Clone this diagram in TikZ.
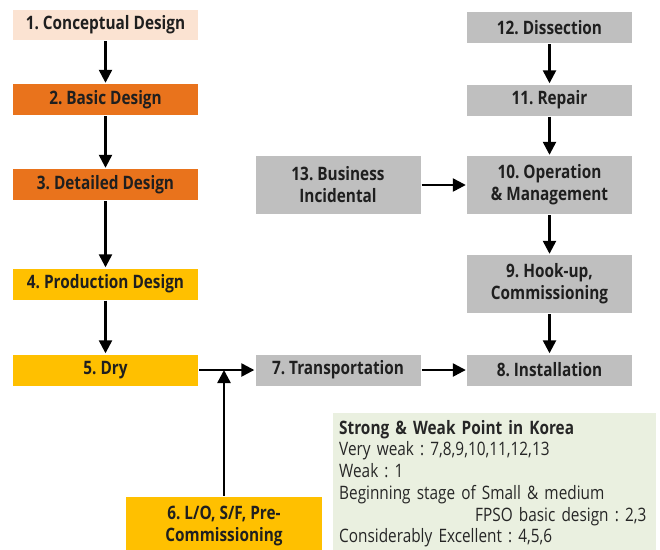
\documentclass[tikz,border=0pt]{standalone}
\usepackage{fontspec}
\setmainfont{Open Sans}[FakeStretch=0.83]
\usetikzlibrary{arrows.meta,positioning,calc}
\frenchspacing
\definecolor{peach}{HTML}{FBE3D2}
\definecolor{orng}{HTML}{E9731C}
\definecolor{yel}{HTML}{FFC000}
\definecolor{gry}{HTML}{BFBFBF}
\definecolor{olv}{HTML}{EAF0E0}
\tikzset{
  stg/.style    = { inner sep=1pt, align=center, text=black!88,
    font=\fontsize{18.5}{22}\selectfont\bfseries },
  sqpeach/.style = { stg, fill=peach, minimum width=185pt, minimum height=30pt },
  sqorng/.style  = { stg, fill=orng, minimum width=185pt, minimum height=31pt },
  sqyel/.style   = { stg, fill=yel, minimum width=185pt, minimum height=31pt },
  sqgry/.style   = { stg, fill=gry, minimum width=165pt, minimum height=31pt },
  tallgry/.style = { sqgry, minimum height=58pt },
  legend/.style  = { fill=olv, align=left, anchor=north west, inner xsep=6pt,
    inner ysep=7pt, text width=311pt, text=black!85,
    font=\fontsize{18.5}{21.7}\selectfont }
}

\begin{document}
\begin{tikzpicture}[thick,line width=2.4pt,node distance=80pt,on grid,
    >={Triangle[length=13pt,width=13pt]}]
      \useasboundingbox (0,0) rectangle (660pt,-549pt);
      % design and building (left), life cycle (right)
      \node[sqpeach] (v1) at (105.5pt,-25pt) {1. Conceptual Design};
      \node[sqorng, below=74.5pt of v1] (v2) {2. Basic Design};
      \node[sqorng, below=85pt of v2] (v3) {3. Detailed Design};
      \node[sqyel, below=99.5pt of v3] (v4) {4. Production Design};
      \node[sqyel, below=86pt of v4] (v5) {5. Dry};
      \node[sqyel, minimum width=196pt, minimum height=58pt,
        below right=156pt and 118.5pt of v5] (v6) {6. L/O, S/F, Pre-\\Commissioning};
      \node[sqgry, right=232.5pt of v5] (v7) {7. Transportation};
      \node[sqgry, right=211.5pt of v7] (v8) {8. Installation};
      \node[tallgry, above=86pt of v8] (v9) {9. Hook-up,\\Commissioning};
      \node[tallgry, above=99pt of v9] (v10) {10. Operation\\\& Management};
      \node[sqgry, above=85pt of v10] (v11) {11. Repair};
      \node[sqgry, above=72.5pt of v11] (v12) {12. Dissection};
      \node[tallgry, left=211.5pt of v10] (v13) {13. Business\\Incidental};
      \coordinate (j) at (v6 |- v5);
      \path[->] (v1) edge (v2);
      \path[->] (v2) edge (v3);
      \path[->] (v3) edge (v4);
      \path[->] (v4) edge (v5);
      \path[->] (v5) edge (v7);
      \path[->] (v6) edge (j);
      \path[->] (v7) edge (v8);
      \path[->] (v12) edge (v11);
      \path[->] (v11) edge (v10);
      \path[->] (v10) edge (v9);
      \path[->] (v9) edge (v8);
      \path[->] (v13) edge (v10);
      \node[legend] (lg) at (332pt,-412pt) {\textbf{Strong \& Weak Point in Korea}\\
        Very weak : 7,8,9,10,11,12,13\\
        Weak : 1\\
        Beginning stage of Small \& medium\\
        \hspace*{136pt}FPSO basic design : 2,3\\
        Considerably Excellent : 4,5,6};
    \end{tikzpicture}
\end{document}
